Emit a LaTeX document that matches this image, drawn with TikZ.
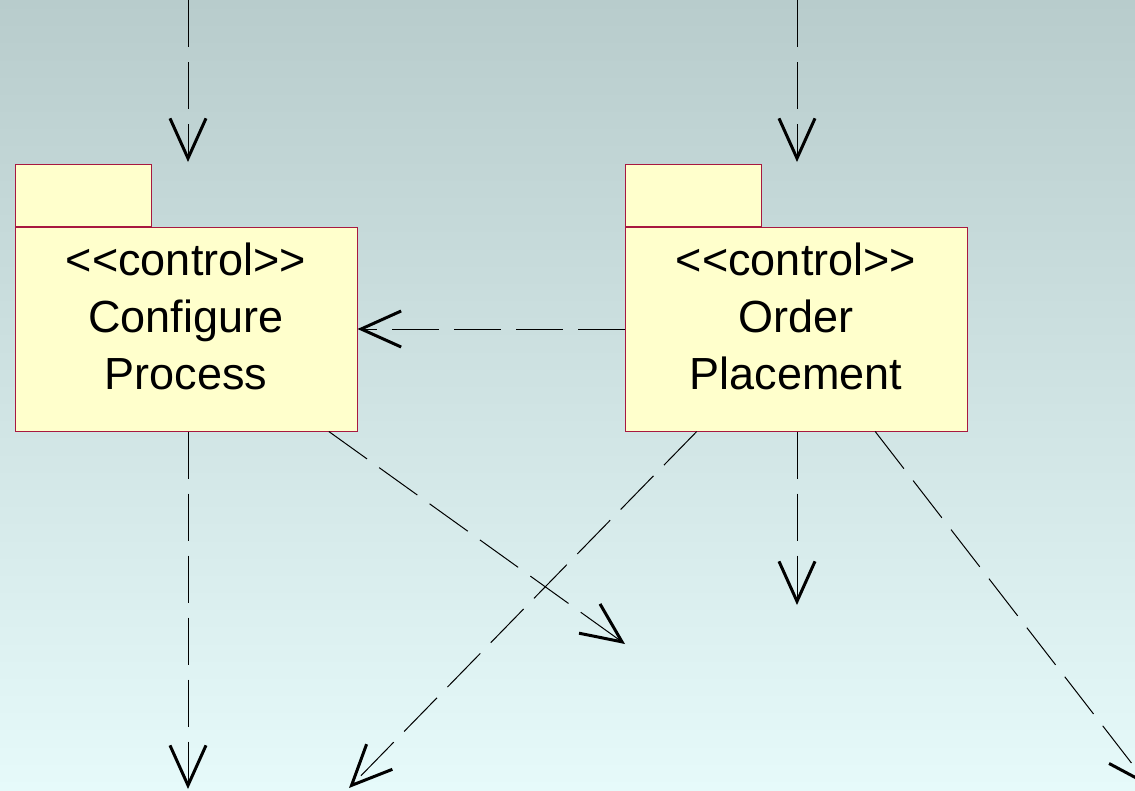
\documentclass[tikz,border=0pt]{standalone}
\usepackage{fontspec}
\setmainfont{Liberation Sans}[Ligatures=TeXOff]
\usepackage{tikz}
\usetikzlibrary{arrows.meta,positioning}
\usepackage{xcolor}
\definecolor{pkgfill}{RGB}{255,255,204}
\definecolor{pkgline}{RGB}{168,24,64}
\definecolor{bgtop}{RGB}{184,204,204}
\definecolor{bgbottom}{RGB}{230,250,250}
\tikzstyle{package} = [rectangle, minimum width=342pt, minimum height=204pt, inner sep=0pt, draw=pkgline, fill=pkgfill, line width=1pt]
\tikzstyle{pkgtab} = [rectangle, minimum width=136pt, minimum height=62pt, inner sep=0pt, draw=pkgline, fill=pkgfill, line width=1pt, anchor=south west]
\tikzstyle{pkgtext} = [font=\fontsize{45}{57}\selectfont, align=center, inner sep=0pt, anchor=north]
\tikzstyle{dep} = [line width=1pt, dash pattern=on 47pt off 15pt, -{Straight Barb[length=40pt,width=36pt,line width=3pt]}]

\begin{document}
\begin{tikzpicture}[x=1pt, y=-1pt]
% Background
\clip (0,0) rectangle (1135,790);
\shade[top color=bgtop, bottom color=bgbottom] (0,0) rectangle (1135,790);

% Packages
\node[package] (cfg) at (186,329) {};
\node[pkgtab] (cfgtab) at (cfg.north west) {};
\node[pkgtext] (cfgtext) at ([yshift=-16pt]cfg.north) {<<control>>\\Configure\\Process};

\node[package] (ord) at (796,329) {};
\node[pkgtab] (ordtab) at (ord.north west) {};
\node[pkgtext] (ordtext) at ([yshift=-16pt]ord.north) {<<control>>\\Order\\Placement};

% Free ends
\coordinate (cfgsrc) at (188,0);
\coordinate (cfgin) at (188,162);
\coordinate (ordsrc) at (797,0);
\coordinate (ordin) at (797,162);
\coordinate (cfgout) at (188,789);
\coordinate (cfgdiag) at (625,644);
\coordinate (orddiag) at (349,788);
\coordinate (ordout) at (797,605);
\coordinate (ordright) at (1150,787);

% Arrows
\draw[dep] (cfgsrc) -- (cfgin);
\draw[dep] (ordsrc) -- (ordin);
\draw[dep] (ord) -- (cfg);
\draw[dep] (cfg.south -| cfgout) -- (cfgout);
\draw[dep] (cfg) -- (cfgdiag);
\draw[dep] (ord) -- (orddiag);
\draw[dep] (ord.south -| ordout) -- (ordout);
\draw[dep] (ord) -- (ordright);
\end{tikzpicture}
\end{document}
